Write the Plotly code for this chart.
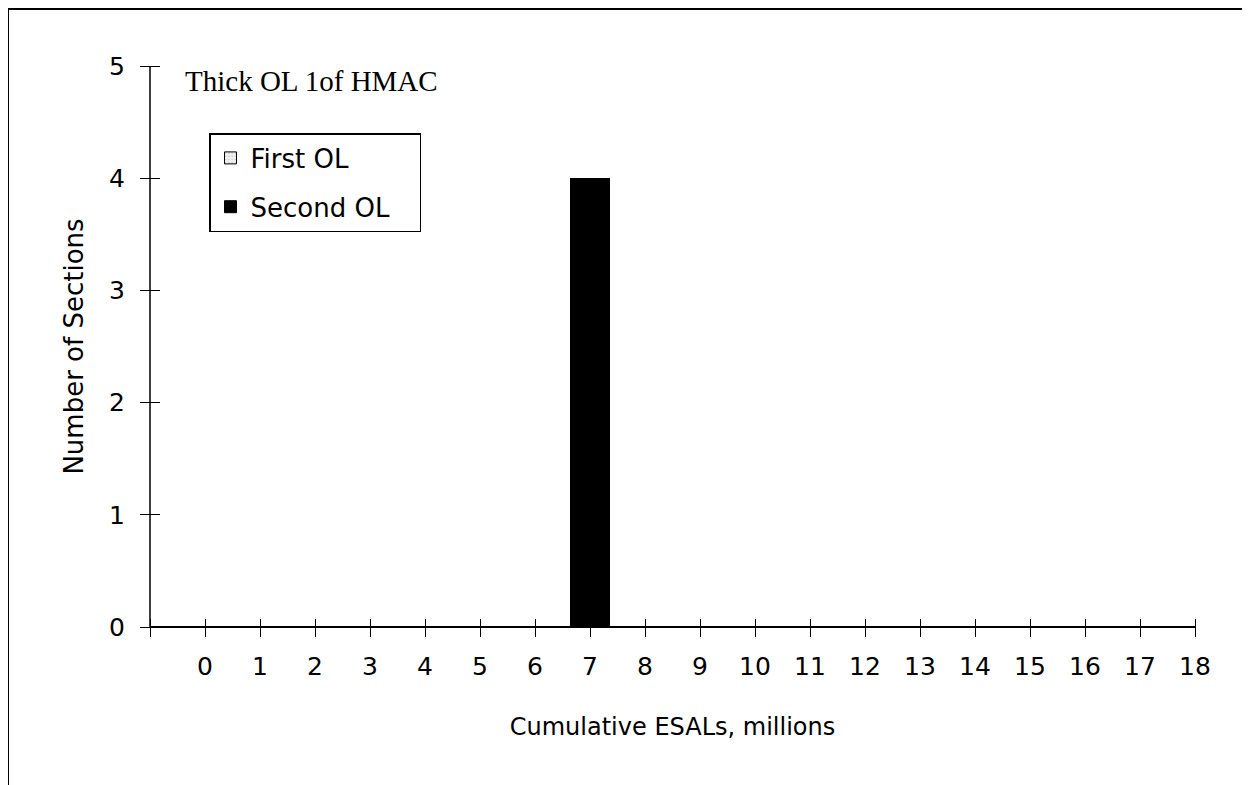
import plotly.graph_objects as go

# data
categories = list(range(0, 19))
first_ol = [0] * 19
second_ol = [0, 0, 0, 0, 0, 0, 0, 4, 0, 0, 0, 0, 0, 0, 0, 0, 0, 0, 0]
y_ticks = [0, 1, 2, 3, 4, 5]

SANS = "DejaVu Sans, Liberation Sans, Arial, sans-serif"
SERIF = "Liberation Serif, Times New Roman, serif"

# page body adds an 8px margin, so the figure is drawn 8px in from the window edge
OFF = 8
W, H = 1242, 777
PX0, PX1 = 150 - OFF, 1195 - OFF   # plot area, figure pixels
PY0, PY1 = 66 - OFF, 627 - OFF
L, R, T, B = PX0, W - PX1, PY0, H - PY1
pw = PX1 - PX0
ph = PY1 - PY0

XT_HALF = 9    # Excel-style ticks that cross the axis line
YT_HALF = 10


def px(x):
    return (x - OFF - PX0) / pw


def py(y):
    return (PY1 - (y - OFF)) / ph


fig = go.Figure()

fig.add_trace(go.Bar(
    x=categories, y=first_ol, name="First OL",
    width=0.72, legendgroup="a",
    marker=dict(color="#e6e6e6", line=dict(color="black", width=1),
                pattern=dict(shape=".", fgcolor="#9a9a9a", bgcolor="#f2f2f2", size=4)),
))
fig.add_trace(go.Bar(
    x=categories, y=second_ol, name="Second OL\u00a0\u00a0\u00a0",
    width=0.72, legendgroup="b",
    marker=dict(color="black", line=dict(color="black", width=1)),
))

tick_font = dict(family=SANS, size=25, color="black")

fig.update_layout(
    width=W, height=H,
    margin=dict(l=L, r=R, t=T, b=B, autoexpand=False),
    paper_bgcolor="white", plot_bgcolor="white",
    barmode="stack",
    font=dict(family=SANS, color="black"),
    showlegend=True,
    legend=dict(
        x=px(209), y=py(133),
        xanchor="left", yanchor="top",
        bgcolor="white", bordercolor="black", borderwidth=1.5,
        font=dict(family=SANS, size=26, color="black"),
        traceorder="grouped", tracegroupgap=12,
    ),
    # axes sit a few px inside the plot so their outside ticks straddle the baseline
    xaxis=dict(
        range=[-1, 18], tickmode="array", tickvals=[-1] + categories,
        ticktext=[""] + [str(c) for c in categories],
        anchor="free", position=XT_HALF / ph,
        showgrid=False, zeroline=False, showline=False,
        ticks="outside", ticklen=2 * XT_HALF, tickwidth=1.2, tickcolor="black",
        tickfont=tick_font, ticklabelstandoff=8,
        title=dict(text="Cumulative ESALs, millions", font=dict(family=SANS, size=24, color="black"),
                   standoff=38),
    ),
    yaxis=dict(
        range=[0, 5], tickmode="array", tickvals=y_ticks,
        anchor="free", position=YT_HALF / pw,
        showgrid=False, showline=False,
        zeroline=True, zerolinecolor="black", zerolinewidth=1.5,
        ticks="outside", ticklen=2 * YT_HALF, tickwidth=1.2, tickcolor="black",
        tickfont=tick_font, ticklabelstandoff=10,
        title=dict(text="Number of Sections", font=dict(family=SANS, size=26, color="black"),
                   standoff=16),
    ),
)

# value axis line along the left edge of the plot
fig.add_shape(
    type="line", xref="x domain", yref="y domain",
    x0=0, x1=0, y0=0, y1=1,
    line=dict(color="black", width=1.5),
)

# chart title inside the plot area
fig.add_annotation(
    text="Thick OL 1of HMAC", xref="paper", yref="paper",
    x=px(183), y=py(81), xanchor="left", yanchor="middle",
    showarrow=False, font=dict(family=SERIF, size=29, color="black"),
)

# outer chart frame
fig.add_shape(
    type="rect", xref="paper", yref="paper", layer="below",
    x0=px(8), x1=px(1248),
    y0=py(800), y1=py(9),
    line=dict(color="black", width=2),
)

fig.write_html("out.html")
